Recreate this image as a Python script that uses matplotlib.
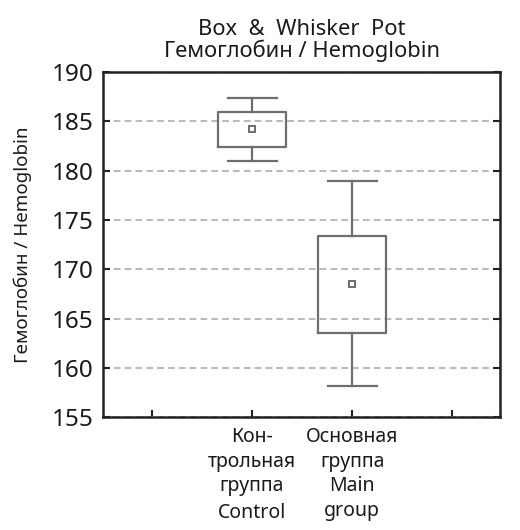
import matplotlib
matplotlib.use("Agg")
import matplotlib.pyplot as plt

# box statistics
groups = ["Кон-\nтрольная\nгруппа", "Основная\nгруппа\nMain\ngroup"]
extra_label = "Control"
positions = [1, 2]
whisker_low = [181.0, 158.2]
box_low = [182.4, 163.5]
centre = [184.2, 168.5]
box_high = [185.9, 173.4]
whisker_high = [187.35, 179.0]
yticks = [155, 160, 165, 170, 175, 180, 185, 190]

plt.rcParams["font.family"] = ["Noto Sans", "DejaVu Sans"]
box_color = "#6e6e6e"
text_color = "#1a1a1a"

stats = []
for i, label in enumerate(groups):
    stats.append({
        "label": label,
        "whislo": whisker_low[i],
        "q1": box_low[i],
        "med": centre[i],
        "mean": centre[i],
        "q3": box_high[i],
        "whishi": whisker_high[i],
        "fliers": [],
    })

fig = plt.figure(figsize=(5.2, 5.3), dpi=100)
ax = fig.add_axes([0.198, 0.213, 0.764, 0.651])

ax.bxp(
    stats,
    positions=positions,
    widths=0.68,
    showmeans=True,
    boxprops=dict(color=box_color, linewidth=1.6),
    whiskerprops=dict(color=box_color, linewidth=1.6),
    capprops=dict(color=box_color, linewidth=1.6),
    medianprops=dict(visible=False),
    meanprops=dict(marker="s", markersize=4.5, markerfacecolor="white",
                   markeredgecolor=box_color, markeredgewidth=1.4),
    capwidths=0.49,
    zorder=3,
)

ax.set_ylim(155, 190)
ax.set_yticks(yticks)
ax.set_xlim(-0.49, 3.48)
ax.set_xticks([0, 1, 2, 3])
ax.set_xticklabels(["", groups[0], groups[1], ""], fontsize=14, linespacing=1.32,
                   color=text_color)

# "Control" sits a bit further below the Russian label
ax.annotate(extra_label, xy=(positions[0], 0), xycoords=("data", "axes fraction"),
            xytext=(0, -62), textcoords="offset points", ha="center", va="top",
            fontsize=14, color=text_color)

ax.yaxis.grid(True, linestyle=(0, (3.2, 2)), color="#bbbbbb", linewidth=1.5, zorder=0)
ax.set_axisbelow(True)

ax.tick_params(axis="both", direction="in", length=5, width=1.5, color="#222222")
ax.tick_params(axis="y", right=True, labelsize=17.5, pad=7, labelcolor=text_color)
ax.tick_params(axis="x", pad=7)
for sp in ax.spines.values():
    sp.set_linewidth(1.8)
    sp.set_color("#222222")

ax.set_ylabel("Гемоглобин / Hemoglobin", fontsize=13.5, labelpad=14, color=text_color)
ax.set_title("Box  &  Whisker  Pot\nГемоглобин / Hemoglobin", fontsize=15.8,
             linespacing=0.95, pad=11, color=text_color)

fig.savefig("out.png", dpi=100)
